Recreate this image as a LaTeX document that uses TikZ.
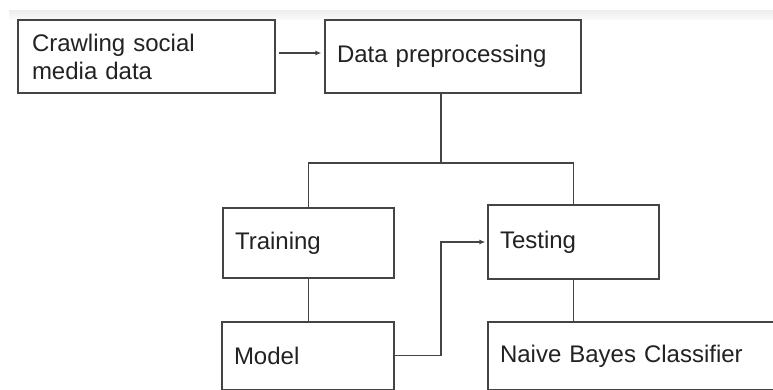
\documentclass[tikz,border=0pt]{standalone}
\usepackage{fontspec}
\setmainfont{Liberation Sans}
\usetikzlibrary{arrows.meta,calc}
\definecolor{edge}{HTML}{444444}
\definecolor{ink}{HTML}{222222}
\tikzset{
  stepbox/.style={draw=edge, line width=1.3pt, rectangle, inner xsep=12pt, inner ysep=0pt,
    font=\fontsize{24}{28}\selectfont, text=ink, align=left, anchor=center},
  link/.style={draw=edge, line width=1.2pt},
  arr/.style={link, -{Latex[length=6pt,width=5pt]}},
}
\begin{document}
\begin{tikzpicture}[x=1pt,y=-1pt]
  \useasboundingbox (0,0) rectangle (773,389);
  \clip (0,0) rectangle (773,389);
  \fill[white] (0,0) rectangle (773,389);
  % faint band along the top edge
  \shade[top color=black!7, bottom color=black!2] (9,10) rectangle (773,19);

  % process boxes
  \node[stepbox, minimum width=257pt, minimum height=73pt, text width=229pt]
    (crawl) at (146.5,56.5) {Crawling social\\media data};
  \node[stepbox, minimum width=256pt, minimum height=73pt, text width=232pt]
    (prep) at (453,56.5) {Data preprocessing};
  \node[stepbox, minimum width=171pt, minimum height=70pt, text width=147pt]
    (train) at (308.5,243) {Training};
  \node[stepbox, minimum width=171pt, minimum height=74pt, text width=147pt]
    (test) at (573.5,242) {Testing};
  \node[stepbox, minimum width=172pt, minimum height=68pt, text width=148pt]
    (model) at (308,356) {Model};
  \node[stepbox, minimum width=320pt, minimum height=68pt, text width=296pt]
    (nbc) at (648,356) {Naive Bayes Classifier};

  % connectors
  \coordinate (split) at (441,163);
  \coordinate (bend) at (441,300);
  \draw[arr, shorten <=3pt, shorten >=3pt]
    ([yshift=3.5pt]crawl.east) -- ([yshift=3.5pt]prep.west);
  \draw[link] (split |- prep.south) -- (split);
  \draw[link] (train.north) |- (split) -| (test.north);
  \draw[link] (train.south) -- (train.south |- model.north);
  \draw[link] (test.south) -- (test.south |- nbc.north);
  \draw[arr, shorten >=2pt] ([yshift=0.5pt]model.east) -| (bend) |- (test.west);
\end{tikzpicture}
\end{document}
